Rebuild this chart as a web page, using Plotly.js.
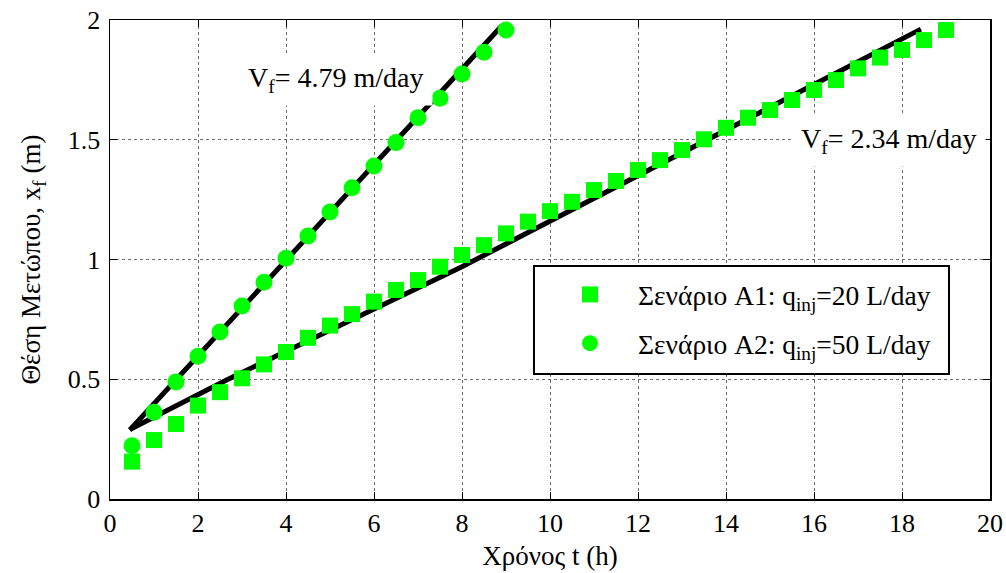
<!DOCTYPE html>
<html>
<head>
<meta charset="utf-8">
<script src="https://cdn.plot.ly/plotly-3.0.1.min.js"></script>
<style>
  html, body { margin: 0; padding: 0; background: #ffffff; }
  #chart { width: 1006px; height: 573px; }
</style>
</head>
<body>
<div id="chart"></div>
<script>
// Front position x_f (m) over time t (h) for two injection rates
var timeA1 = [0.5, 1, 1.5, 2, 2.5, 3, 3.5, 4, 4.5, 5, 5.5, 6, 6.5, 7, 7.5, 8, 8.5, 9, 9.5, 10,
              10.5, 11, 11.5, 12, 12.5, 13, 13.5, 14, 14.5, 15, 15.5, 16, 16.5, 17, 17.5, 18, 18.5, 19];
var frontA1 = [0.156, 0.246, 0.313, 0.39, 0.446, 0.504, 0.562, 0.614, 0.673, 0.724,
               0.772, 0.824, 0.873, 0.914, 0.97, 1.019, 1.06, 1.109, 1.158, 1.202,
               1.241, 1.29, 1.328, 1.374, 1.415, 1.457, 1.502, 1.55, 1.592, 1.624,
               1.666, 1.708, 1.749, 1.798, 1.843, 1.875, 1.916, 1.958];

var timeA2 = [0.5, 1, 1.5, 2, 2.5, 3, 3.5, 4, 4.5, 5, 5.5, 6, 6.5, 7, 7.5, 8, 8.5, 9];
var frontA2 = [0.222, 0.362, 0.489, 0.596, 0.697, 0.806, 0.905, 1.005, 1.098, 1.198,
               1.30, 1.39, 1.488, 1.592, 1.673, 1.775, 1.865, 1.958];

// Fitted front lines
var fitTimeA1 = [0.45, 2.65, 8.0, 18.43];
var fitFrontA1 = [0.29, 0.497, 0.97, 1.962];
var fitTimeA2 = [0.45, 8.9];
var fitFrontA2 = [0.288, 1.975];

var legendA1 = 'Σενάριο A1: q<sub>inj</sub>=20 L/day';
var legendA2 = 'Σενάριο A2: q<sub>inj</sub>=50 L/day';
var velocityA2 = 'V<sub>f</sub>= 4.79 m/day';
var velocityA1 = 'V<sub>f</sub>= 2.34 m/day';

var xTicks = [0, 2, 4, 6, 8, 10, 12, 14, 16, 18, 20];
var yTicks = [0, 0.5, 1, 1.5, 2];
var yTickText = ['0', '0.5', '1', '1.5', '2'];

var serif = '"Liberation Serif", "Times New Roman", Times, serif';
var green = '#00ff00';

var traces = [
  {
    x: fitTimeA2, y: fitFrontA2, mode: 'lines', showlegend: false,
    line: { color: '#000000', width: 5 }, hoverinfo: 'skip'
  },
  {
    x: fitTimeA1, y: fitFrontA1, mode: 'lines', showlegend: false,
    line: { color: '#000000', width: 5 }, hoverinfo: 'skip'
  },
  {
    x: timeA1, y: frontA1, mode: 'markers', name: legendA1, legendgroup: 'a1',
    marker: { symbol: 'square', size: 16, color: green }
  },
  {
    x: timeA2, y: frontA2, mode: 'markers', name: legendA2, legendgroup: 'a2',
    marker: { symbol: 'circle', size: 17, color: green }
  }
];

var axisCommon = {
  showline: true, linecolor: '#000000', linewidth: 1.5, mirror: 'ticks',
  ticks: 'inside', ticklen: 7, tickwidth: 1, tickcolor: '#000000',
  showgrid: true, gridcolor: '#6e6e6e', gridwidth: 1, griddash: 'dot',
  zeroline: false, tickfont: { family: serif, size: 26, color: '#000000' }
};

var layout = {
  width: 1006, height: 573,
  margin: { l: 110, r: 16, t: 20, b: 74 },
  paper_bgcolor: '#ffffff', plot_bgcolor: '#ffffff',
  font: { family: serif, color: '#000000' },
  xaxis: Object.assign({}, axisCommon, {
    range: [0, 20], tickvals: xTicks, ticktext: xTicks.map(String),
    title: { text: 'Χρόνος t (h)', font: { family: serif, size: 27 }, standoff: 9 }
  }),
  yaxis: Object.assign({}, axisCommon, {
    range: [0, 2], tickvals: yTicks, ticktext: yTickText, ticklabelstandoff: 3,
    title: { text: 'Θέση Μετώπου, x<sub>f</sub> (m)', font: { family: serif, size: 27 }, standoff: 19 }
  }),
  legend: {
    x: 0.4909, y: 0.478, xanchor: 'left', yanchor: 'top',
    bgcolor: 'rgba(0,0,0,0)', borderwidth: 0,
    font: { family: serif, size: 27.5, color: '#000000' },
    traceorder: 'grouped', tracegroupgap: 10, itemwidth: 86
  },
  shapes: [
    {
      type: 'rect', xref: 'paper', yref: 'paper', layer: 'above',
      x0: 0.4818, x1: 0.9534, y0: 0.261, y1: 0.4864,
      fillcolor: '#ffffff', line: { color: '#000000', width: 2 }
    }
  ],
  annotations: [
    {
      x: 2.93, y: 1.75, xref: 'x', yref: 'y', xanchor: 'left', yanchor: 'middle',
      text: velocityA2, showarrow: false, bgcolor: '#ffffff', borderpad: 8,
      font: { family: serif, size: 28, color: '#000000' }
    },
    {
      x: 15.49, y: 1.495, xref: 'x', yref: 'y', xanchor: 'left', yanchor: 'middle',
      text: velocityA1, showarrow: false, bgcolor: '#ffffff', borderpad: 8,
      font: { family: serif, size: 28, color: '#000000' }
    }
  ],
  showlegend: true
};

Plotly.newPlot('chart', traces, layout, { displayModeBar: false, staticPlot: true });
</script>
</body>
</html>
